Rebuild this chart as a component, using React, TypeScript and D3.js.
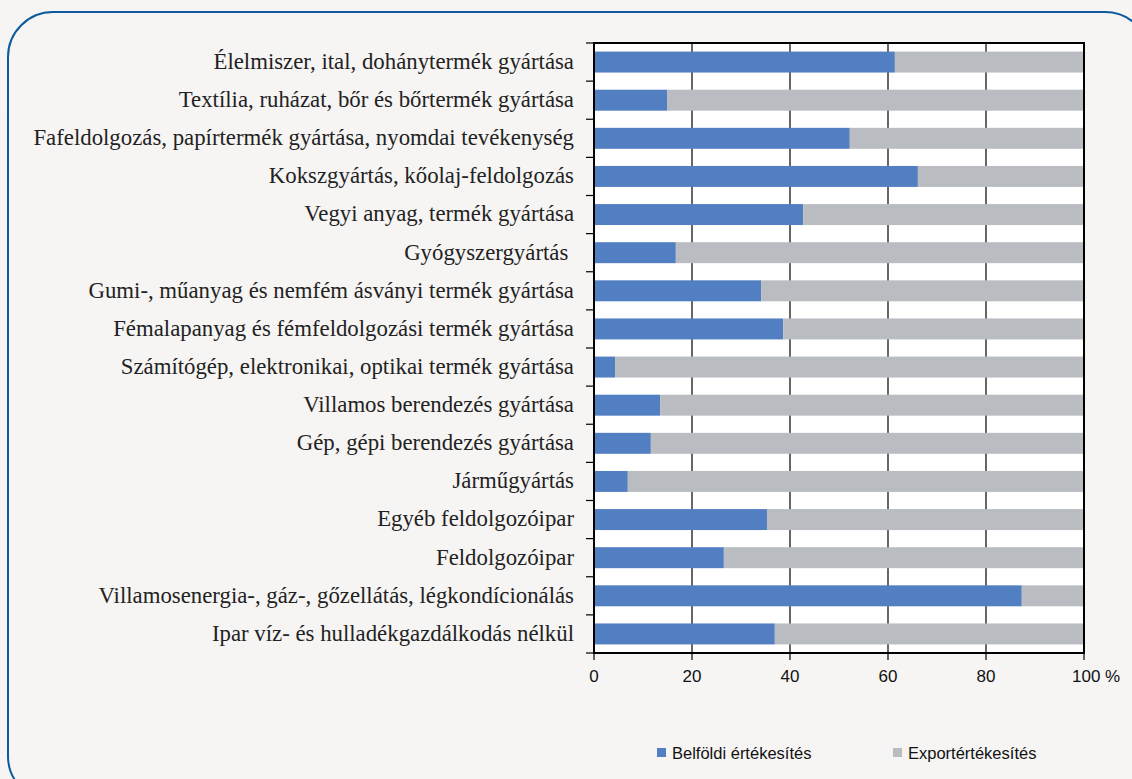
import React, { useEffect, useRef } from "react";
import * as d3 from "d3";

const categories = [
  "Élelmiszer, ital, dohánytermék gyártása",
  "Textília, ruházat, bőr és bőrtermék gyártása",
  "Fafeldolgozás, papírtermék gyártása, nyomdai tevékenység",
  "Kokszgyártás, kőolaj-feldolgozás",
  "Vegyi anyag, termék gyártása",
  "Gyógyszergyártás ",
  "Gumi-, műanyag és nemfém ásványi termék gyártása",
  "Fémalapanyag és fémfeldolgozási termék gyártása",
  "Számítógép, elektronikai, optikai termék gyártása",
  "Villamos berendezés gyártása",
  "Gép, gépi berendezés gyártása",
  "Járműgyártás",
  "Egyéb feldolgozóipar",
  "Feldolgozóipar",
  "Villamosenergia-, gáz-, gőzellátás, légkondícionálás",
  "Ipar víz- és hulladékgazdálkodás nélkül",
];

// share of domestic sales, %
const domestic = [61.4, 14.9, 52.2, 66.1, 42.7, 16.7, 34.1, 38.6, 4.3, 13.5, 11.6, 6.9, 35.3, 26.5, 87.3, 36.9];
const seriesNames = ["Belföldi értékesítés", "Exportértékesítés"];
const colors = ["#527fc1", "#b9bdc1"];
const xTicks = [0, 20, 40, 60, 80, 100];

const W = 1132;
const H = 779;

export default function App() {
  const ref = useRef<SVGSVGElement>(null);

  useEffect(() => {
    const svg = d3.select(ref.current);
    svg.selectAll("*").remove();

    const margin = { top: 43, left: 594, right: 48, bottom: 126 };
    const x = d3.scaleLinear().domain([0, 100]).range([margin.left, W - margin.right]);
    const y = d3
      .scaleBand()
      .domain(categories)
      .range([margin.top, H - margin.bottom])
      .paddingInner(0.45)
      .paddingOuter(0.225);

    svg.append("rect").attr("width", W).attr("height", H).attr("fill", "#f6f5f4");

    // rounded frame
    svg
      .append("rect")
      .attr("x", 8)
      .attr("y", 12)
      .attr("width", W + 10)
      .attr("height", H + 10)
      .attr("rx", 45)
      .attr("fill", "none")
      .attr("stroke", "#0d5a9e")
      .attr("stroke-width", 2);

    const [x0, x1] = x.range();
    const [y0, y1] = y.range();

    svg
      .append("rect")
      .attr("x", x0)
      .attr("y", y0)
      .attr("width", x1 - x0)
      .attr("height", y1 - y0)
      .attr("fill", "#fff");

    // gridlines
    svg
      .append("g")
      .selectAll("line")
      .data(xTicks.slice(1, -1))
      .join("line")
      .attr("x1", (d) => x(d))
      .attr("x2", (d) => x(d))
      .attr("y1", y0)
      .attr("y2", y1)
      .attr("stroke", "#000")
      .attr("stroke-width", 1.2);

    const rows = categories.map((c, i) => ({ c, a: domestic[i], b: 100 - domestic[i] }));

    const g = svg.append("g");
    g.selectAll("rect.dom")
      .data(rows)
      .join("rect")
      .attr("class", "dom")
      .attr("x", x(0))
      .attr("y", (d) => y(d.c)!)
      .attr("width", (d) => x(d.a) - x(0))
      .attr("height", y.bandwidth())
      .attr("fill", colors[0]);
    g.selectAll("rect.exp")
      .data(rows)
      .join("rect")
      .attr("class", "exp")
      .attr("x", (d) => x(d.a))
      .attr("y", (d) => y(d.c)!)
      .attr("width", (d) => x(100) - x(d.a))
      .attr("height", y.bandwidth())
      .attr("fill", colors[1]);

    // plot frame
    svg
      .append("rect")
      .attr("x", x0)
      .attr("y", y0)
      .attr("width", x1 - x0)
      .attr("height", y1 - y0)
      .attr("fill", "none")
      .attr("stroke", "#000")
      .attr("stroke-width", 2);

    // category ticks at band boundaries
    const step = y.step();
    const bounds = d3.range(categories.length + 1).map((i) => y0 + i * step);
    svg
      .append("g")
      .selectAll("line")
      .data(bounds)
      .join("line")
      .attr("x1", x0 - 8)
      .attr("x2", x0)
      .attr("y1", (d) => d)
      .attr("y2", (d) => d)
      .attr("stroke", "#000")
      .attr("stroke-width", 1.2);

    svg
      .append("g")
      .selectAll("text")
      .data(categories)
      .join("text")
      .attr("x", x0 - 20)
      .attr("y", (d) => y(d)! + y.bandwidth() / 2)
      .attr("dy", "0.3em")
      .attr("text-anchor", "end")
      .style("white-space", "pre")
      .attr("font-family", "'Liberation Serif', serif")
      .attr("font-size", 22.8)
      .attr("fill", "#222")
      .text((d) => d);

    // x axis ticks and labels
    svg
      .append("g")
      .selectAll("line")
      .data(xTicks)
      .join("line")
      .attr("x1", (d) => x(d))
      .attr("x2", (d) => x(d))
      .attr("y1", y1)
      .attr("y2", y1 + 7)
      .attr("stroke", "#000")
      .attr("stroke-width", 1.2);

    svg
      .append("g")
      .selectAll("text")
      .data(xTicks)
      .join("text")
      .attr("x", (d) => x(d))
      .attr("y", y1 + 29)
      .attr("text-anchor", (d) => (d === 100 ? "start" : "middle"))
      .attr("dx", (d) => (d === 100 ? -12 : 0))
      .attr("font-family", "'Liberation Sans', Arial, sans-serif")
      .attr("font-size", 17)
      .attr("fill", "#111")
      .text((d) => (d === 100 ? "100 %" : String(d)));

    // legend
    const legendX = [657, 893];
    const lg = svg.append("g");
    seriesNames.forEach((name, i) => {
      lg.append("rect")
        .attr("x", legendX[i])
        .attr("y", 748)
        .attr("width", 9)
        .attr("height", 9)
        .attr("fill", colors[i]);
      lg.append("text")
        .attr("x", legendX[i] + 15)
        .attr("y", 753)
        .attr("dy", "0.35em")
        .attr("font-family", "'Liberation Sans', Arial, sans-serif")
        .attr("font-size", 16.5)
        .attr("fill", "#111")
        .text(name);
    });
  }, []);

  return (
    <div style={{ position: "fixed", left: 0, top: 0 }}>
      <svg ref={ref} width={W} height={H} style={{ display: "block" }} />
    </div>
  );
}
